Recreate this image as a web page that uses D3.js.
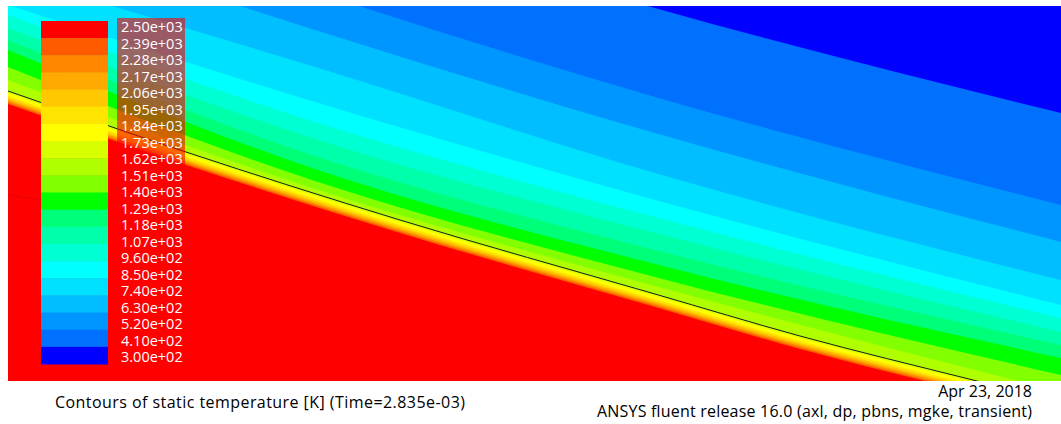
<!DOCTYPE html>
<html>
<head>
<meta charset="utf-8">
<script src="https://cdn.jsdelivr.net/npm/d3@7"></script>
<style>
  body { margin: 0; background: #fff; }
  text { font-family: "Open Sans", sans-serif; }
</style>
</head>
<body>
<div id="chart"></div>
<script>
// legend labels, top (hot) to bottom (cold)
var tickLabels = ["2.50e+03", "2.39e+03", "2.28e+03", "2.17e+03", "2.06e+03", "1.95e+03",
    "1.84e+03", "1.73e+03", "1.62e+03", "1.51e+03", "1.40e+03", "1.29e+03", "1.18e+03",
    "1.07e+03", "9.60e+02", "8.50e+02", "7.40e+02", "6.30e+02", "5.20e+02", "4.10e+02", "3.00e+02"];

// band colours, index 0 = red (hot) .. 19 = blue (cold)
var bandColors = ["#ff0000", "#ff5a00", "#ff8700", "#ffaa00", "#ffc800", "#ffe400",
    "#ffff00", "#d7ff00", "#afff00", "#82ff00", "#00ff00", "#00ff78", "#00ffaa",
    "#00ffd2", "#00ffff", "#00e1ff", "#00beff", "#0096ff", "#0070ff", "#0000ff"];

// the black interface line (plot units)
var interfaceX = [0, 175, 392, 647, 792, 965, 1053];
var interfaceY = [85, 145, 214, 288, 330, 374, 396];

// sample columns for the contour edges
var colX = [0, 307, 647, 1053];
// top edge of each cold band above the interface, band 8 .. 18
var bandTops = [
    [74, 183, 280, 386],
    [61, 175, 271, 369],
    [44, 163, 258, 352],
    [34, 150, 244, 339],
    [22, 133, 227, 326],
    [9, 116, 211, 312],
    [-1, 96, 194, 299],
    [-31, 61, 167, 274],
    [-76, 24, 127, 236],
    [-116, -14, 91, 199],
    [-196, -101, 2, 107]
];
// thin hot layer below the interface: bottom edge of bands 7 .. 1
var layerDepth = [2, 5, 7, 8.5, 10, 11.5, 13];

var width = 1061, height = 424;
var plotW = 1053, plotH = 375;

var svg = d3.select("#chart").append("svg")
    .attr("width", width)
    .attr("height", height);

var x = d3.scaleLinear().domain([0, plotW]).range([8, 8 + plotW]);
var y = d3.scaleLinear().domain([0, plotH]).range([6, 6 + plotH]);

svg.append("clipPath").attr("id", "clip")
    .append("rect")
    .attr("x", x(0)).attr("y", y(0))
    .attr("width", x(plotW) - x(0)).attr("height", y(plotH) - y(0));

var field = svg.append("g").attr("clip-path", "url(#clip)");

field.append("rect")
    .attr("x", x(0)).attr("y", y(0))
    .attr("width", x(plotW) - x(0)).attr("height", y(plotH) - y(0))
    .style("fill", bandColors[19]);

function pts(xs, ys) {
    return xs.map(function (cx, i) { return [cx, ys[i]]; });
}

var area = d3.area()
    .x(function (d) { return x(d[0]); })
    .y0(y(plotH + 50))
    .y1(function (d) { return y(d[1]); })
    .curve(d3.curveMonotoneX);

// cold bands, painted from the top one downwards
for (var b = bandTops.length - 1; b >= 0; b--) {
    field.append("path")
        .attr("d", area(pts(colX, bandTops[b])))
        .style("fill", bandColors[8 + b]);
}

// below the interface
field.append("path")
    .attr("d", area(pts(interfaceX, interfaceY)))
    .style("fill", bandColors[7]);

layerDepth.forEach(function (dep, i) {
    var vals = interfaceY.map(function (v) { return v + dep; });
    field.append("path")
        .attr("d", area(pts(interfaceX, vals)))
        .style("fill", bandColors[6 - i]);
});

var line = d3.line()
    .x(function (d) { return x(d[0]); })
    .y(function (d) { return y(d[1]); })
    .curve(d3.curveMonotoneX);

field.append("path")
    .attr("d", line(pts(interfaceX, interfaceY)))
    .style("fill", "none")
    .style("stroke", "#1a1a1a")
    .style("stroke-width", 1);

// faint dotted trace at the left edge
field.append("path")
    .attr("d", line([[0, 189], [33, 194]]))
    .style("fill", "none")
    .style("stroke", "#a00000")
    .style("stroke-opacity", 0.5)
    .style("stroke-dasharray", "2,2");

// colour bar
var barY = d3.scaleBand()
    .domain(d3.range(bandColors.length))
    .range([21, 364]);

svg.append("g").selectAll("rect")
    .data(bandColors)
    .enter()
    .append("rect")
    .attr("x", 41)
    .attr("y", function (d, i) { return barY(i); })
    .attr("width", 67)
    .attr("height", barY.bandwidth() + 0.5)
    .style("fill", function (d) { return d; });

// label box
svg.append("rect")
    .attr("x", 117).attr("y", 18)
    .attr("width", 68).attr("height", 346)
    .style("fill", "#ff0000")
    .style("fill-opacity", 0.6);

var labY = d3.scalePoint()
    .domain(tickLabels)
    .range([27, 357]);

svg.append("g").selectAll("text")
    .data(tickLabels)
    .enter()
    .append("text")
    .attr("x", 121)
    .attr("y", function (d) { return labY(d); })
    .attr("dy", "0.36em")
    .style("font-size", "14.5px")
    .style("fill", "#fff")
    .text(function (d) { return d; });

svg.append("text")
    .attr("x", 55).attr("y", 408)
    .attr("textLength", 410)
    .style("font-size", "16px")
    .style("fill", "#000")
    .text("Contours of static temperature [K] (Time=2.835e-03)");

svg.append("text")
    .attr("x", 1032).attr("y", 397)
    .attr("text-anchor", "end")
    .style("font-size", "16px")
    .style("fill", "#000")
    .text("Apr 23, 2018");

svg.append("text")
    .attr("x", 597).attr("y", 417)
    .attr("textLength", 435)
    .style("font-size", "16px")
    .style("fill", "#000")
    .text("ANSYS fluent release 16.0 (axl, dp, pbns, mgke, transient)");
</script>
</body>
</html>
